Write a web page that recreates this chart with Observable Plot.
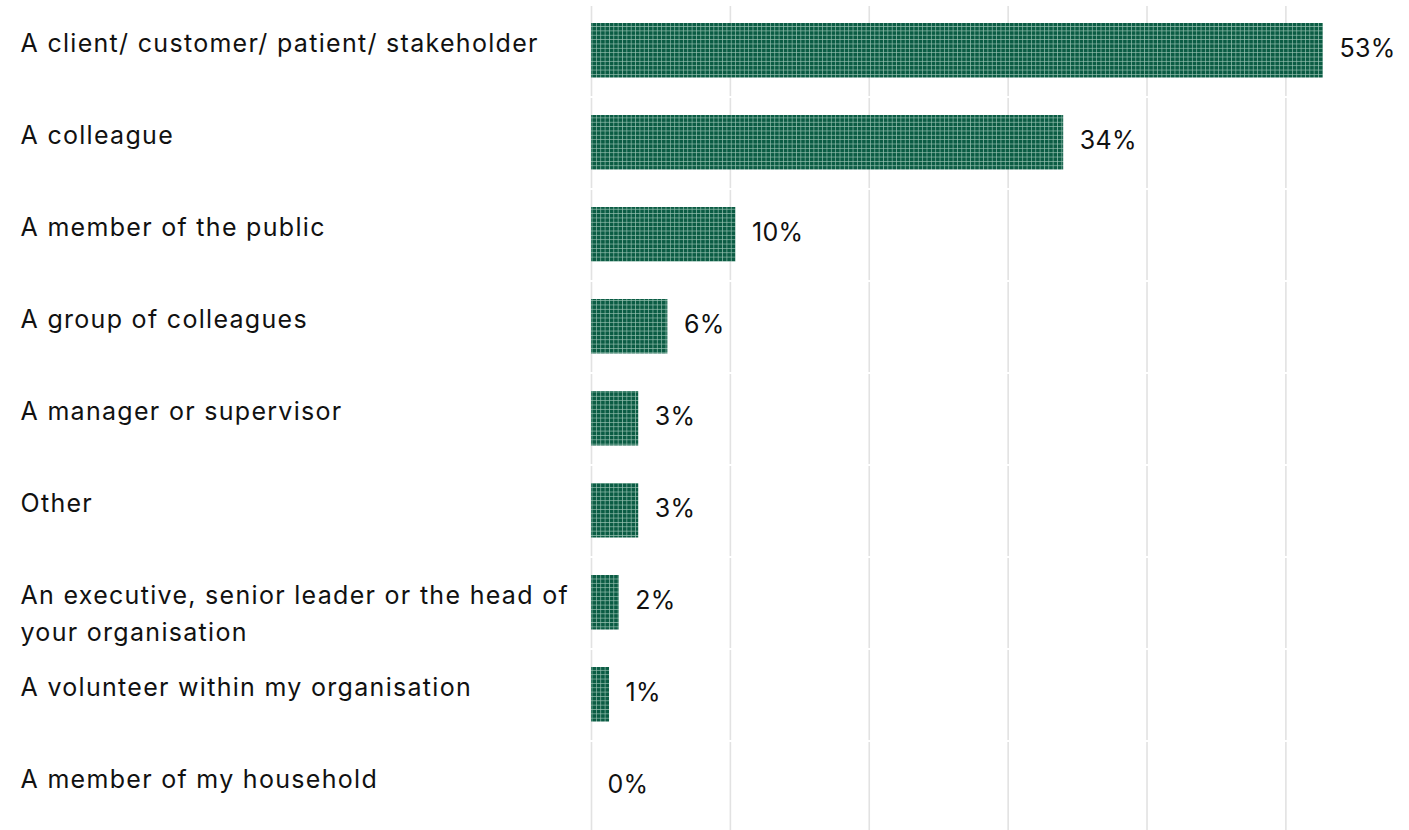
<!DOCTYPE html>
<html>
<head>
<meta charset="utf-8">
<script src="https://cdn.jsdelivr.net/npm/d3@7"></script>
<script src="https://cdn.jsdelivr.net/npm/@observablehq/plot@0.6"></script>
<style>
  html, body { margin: 0; padding: 0; background: #fff; }
  #chart svg { display: block; }
  #chart .cat-labels text { letter-spacing: 1.3px; }
  #chart .val-labels text { letter-spacing: 0.3px; }
</style>
</head>
<body>
<div id="chart"></div>
<script>
const categories = [
  "A client/ customer/ patient/ stakeholder",
  "A colleague",
  "A member of the public",
  "A group of colleagues",
  "A manager or supervisor",
  "Other",
  "An executive, senior leader or the head of\nyour organisation",
  "A volunteer within my organisation",
  "A member of my household"
];
const values = [52.7, 34.0, 10.4, 5.5, 3.4, 3.4, 2.0, 1.3, 0];
const valueLabels = ["53%", "34%", "10%", "6%", "3%", "3%", "2%", "1%", "0%"];
const gridTicks = [0, 10, 20, 30, 40, 50];

const rows = categories.map((c, i) => ({ category: c, value: values[i], label: valueLabels[i] }));
const gridRows = categories.flatMap(c => gridTicks.map(t => ({ category: c, tick: t })));

const font = "Inter, 'Noto Sans', sans-serif";

const chart = Plot.plot({
  width: 1409,
  height: 830,
  marginLeft: 591,
  marginRight: 0,
  marginTop: 0,
  marginBottom: 0,
  style: { fontFamily: font, fontSize: "25px", color: "#111" },
  x: { domain: [0, 58.9], axis: null },
  y: { domain: categories, axis: null, padding: 0, range: [2, 835] },
  marks: [
    Plot.tickX(gridRows, { x: "tick", y: "category", stroke: "#e2e2e2", strokeWidth: 1.6, insetTop: 1, insetBottom: 1 }),
    Plot.barX(rows, { x: "value", y: "category", fill: "url(#grid-pattern)", insetTop: 18, insetBottom: 19.5 }),
    Plot.text(rows, { x: "value", y: "category", text: "label", textAnchor: "start", dx: 16, dy: -2.5, fill: "#111", fontSize: 25, fontWeight: 400, className: "val-labels" }),
    Plot.text(rows, { y: "category", text: "category", frameAnchor: "left", textAnchor: "start", lineAnchor: "top", dx: -571, dy: -25.5, lineHeight: 1.48, fill: "#111", fontSize: 25, fontWeight: 400, className: "cat-labels" })
  ]
});

const svg = d3.select(chart);
const defs = svg.insert("defs", ":first-child");
const pat = defs.append("pattern")
  .attr("id", "grid-pattern")
  .attr("patternUnits", "userSpaceOnUse")
  .attr("width", 4.35)
  .attr("height", 4.35);
pat.append("rect").attr("width", 4.35).attr("height", 4.35).attr("fill", "#0b5c44");
pat.append("rect").attr("x", 0).attr("y", 0).attr("width", 4.35).attr("height", 0.8).attr("fill", "#9cc4b5").attr("opacity", 0.8);
pat.append("rect").attr("x", 0).attr("y", 0).attr("width", 0.8).attr("height", 4.35).attr("fill", "#9cc4b5").attr("opacity", 0.8);

document.getElementById("chart").appendChild(chart);
</script>
</body>
</html>
